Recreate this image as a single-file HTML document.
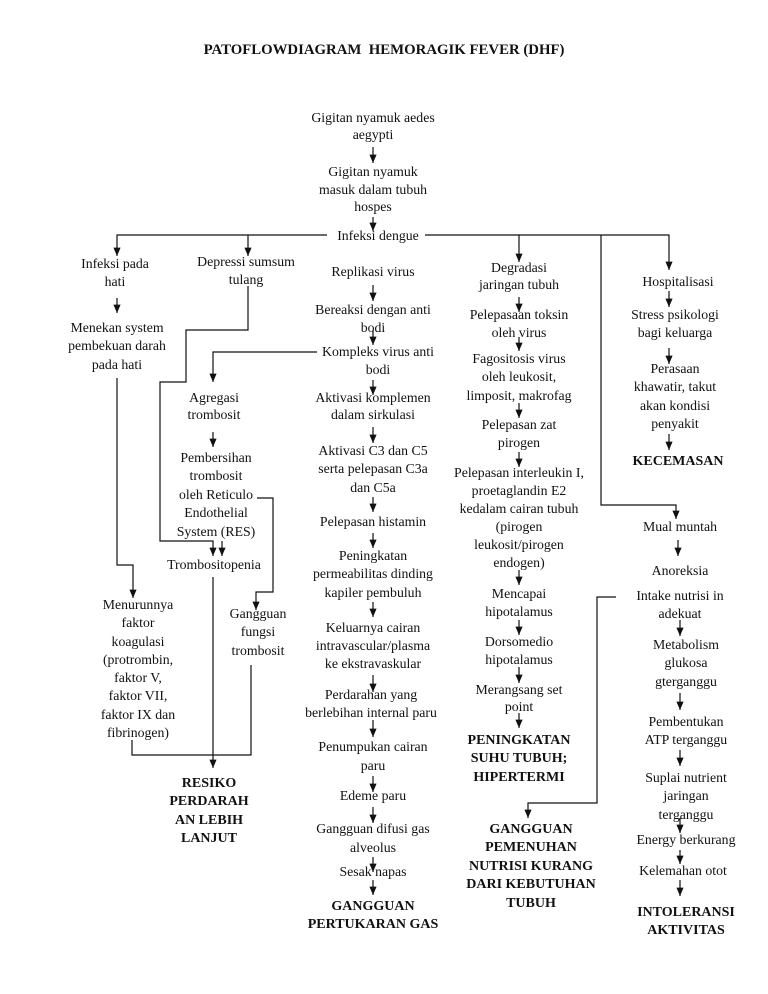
<!DOCTYPE html>
<html><head><meta charset="utf-8"><style>
body{margin:0;background:#fff;}
#c{position:relative;width:768px;height:994px;overflow:hidden;font-family:"Liberation Serif",serif;font-size:13.8px;color:#111;}
.t{position:absolute;width:300px;margin-left:-30px;text-align:center;line-height:18.4px;white-space:nowrap;}
.b{font-weight:bold;font-size:14px;}
svg{position:absolute;left:0;top:0;}
</style></head><body><div id="c">
<svg width="768" height="994">
<defs>
<marker id="m" viewBox="0 0 6 7" markerWidth="6" markerHeight="7" refX="3" refY="7" orient="0"><path d="M0,0 L6,0 L3,7z" fill="#111"/></marker></defs>
<g stroke="#111" stroke-width="1.2" fill="none">
<path d="M132 740V755H251V665"/>
</g>
<g stroke="#111" stroke-width="1.2" fill="none" marker-end="url(#m)">
<path d="M373 147V163"/><path d="M373 217V231"/><path d="M373 285V301"/><path d="M373 330V345"/><path d="M373 380V395"/>
<path d="M373 427V443"/><path d="M373 497V512"/><path d="M373 533V548"/><path d="M373 602V617"/><path d="M373 675V692"/>
<path d="M373 720V737"/><path d="M373 776V792"/><path d="M373 807V823"/><path d="M373 857V872"/><path d="M373 880V895"/>
<path d="M327 235H117V256"/><path d="M248 235V256"/><path d="M425 235H519V262"/><path d="M519 235H669V270"/>
<path d="M601 235V505H676V519"/>
<path d="M117 298V313"/><path d="M117 378V565H133V598"/>
<path d="M248 286V330H186V382H160V541H213V556"/>
<path d="M317 352H213V382"/><path d="M213 432V447"/><path d="M222 541V556"/>
<path d="M257 498H273V592H256V610"/>
<path d="M213 577V768"/>
<path d="M519 297V312"/><path d="M519 337V351"/><path d="M519 403V418"/><path d="M519 452V467"/><path d="M519 570V585"/><path d="M519 620V635"/><path d="M519 667V683"/><path d="M519 713V728"/>
<path d="M616 597H597V803H528V818"/>
<path d="M669 291V307"/><path d="M669 348V364"/><path d="M669 434V450"/>
<path d="M678 540V556"/><path d="M680 620V636"/><path d="M680 693V710"/><path d="M680 750V766"/><path d="M680 818V833"/><path d="M680 850V864"/><path d="M680 880V896"/>
</g>
</svg>
<div class="b" style="position:absolute;left:84px;width:600px;text-align:center;top:41px;font-size:14.8px;line-height:18px;white-space:nowrap">PATOFLOWDIAGRAM&nbsp; HEMORAGIK FEVER (DHF)</div>
<div class="t" style="left:253px;top:109px;line-height:17px">Gigitan nyamuk aedes<br>aegypti</div>
<div class="t" style="left:253px;top:163px;line-height:17.5px">Gigitan nyamuk<br>masuk dalam tubuh<br>hospes</div>
<div class="t" style="left:258px;top:227px">Infeksi dengue</div>
<div class="t" style="left:253px;top:263px">Replikasi virus</div>
<div class="t" style="left:253px;top:301px">Bereaksi dengan anti<br>bodi</div>
<div class="t" style="left:258px;top:343px">Kompleks virus anti<br>bodi</div>
<div class="t" style="left:253px;top:389px;line-height:17px">Aktivasi komplemen<br>dalam sirkulasi</div>
<div class="t" style="left:253px;top:442px">Aktivasi C3 dan C5<br>serta pelepasan C3a<br>dan C5a</div>
<div class="t" style="left:253px;top:513px">Pelepasan histamin</div>
<div class="t" style="left:253px;top:547px">Peningkatan<br>permeabilitas dinding<br>kapiler pembuluh</div>
<div class="t" style="left:253px;top:619px;line-height:18px">Keluarnya cairan<br>intravascular/plasma<br>ke ekstravaskular</div>
<div class="t" style="left:251px;top:686px">Perdarahan yang<br>berlebihan internal paru</div>
<div class="t" style="left:253px;top:737px;line-height:19px">Penumpukan cairan<br>paru</div>
<div class="t" style="left:253px;top:787px">Edeme paru</div>
<div class="t" style="left:253px;top:819px;line-height:19px">Gangguan difusi gas<br>alveolus</div>
<div class="t" style="left:253px;top:863px">Sesak napas</div>
<div class="t b" style="left:253px;top:898px">GANGGUAN<br>PERTUKARAN GAS</div>
<div class="t" style="left:-5px;top:255px">Infeksi pada<br>hati</div>
<div class="t" style="left:-3px;top:319px">Menekan system<br>pembekuan darah<br>pada hati</div>
<div class="t" style="left:18px;top:596px;line-height:18.3px">Menurunnya<br>faktor<br>koagulasi<br>(protrombin,<br>faktor V,<br>faktor VII,<br>faktor IX dan<br>fibrinogen)</div>
<div class="t" style="left:126px;top:253px">Depressi sumsum<br>tulang</div>
<div class="t" style="left:94px;top:389px;line-height:17px">Agregasi<br>trombosit</div>
<div class="t" style="left:96px;top:449px">Pembersihan<br>trombosit<br>oleh Reticulo<br>Endothelial<br>System (RES)</div>
<div class="t" style="left:94px;top:556px">Trombositopenia</div>
<div class="t" style="left:138px;top:605px">Gangguan<br>fungsi<br>trombosit</div>
<div class="t b" style="left:89px;top:775px">RESIKO<br>PERDARAH<br>AN LEBIH<br>LANJUT</div>
<div class="t" style="left:399px;top:259px;line-height:17px">Degradasi<br>jaringan tubuh</div>
<div class="t" style="left:399px;top:306px">Pelepasaan toksin<br>oleh virus</div>
<div class="t" style="left:399px;top:350px">Fagositosis virus<br>oleh leukosit,<br>limposit, makrofag</div>
<div class="t" style="left:399px;top:416px">Pelepasan zat<br>pirogen</div>
<div class="t" style="left:399px;top:464px;line-height:18.1px">Pelepasan interleukin I,<br>proetaglandin E2<br>kedalam cairan tubuh<br>(pirogen<br>leukosit/pirogen<br>endogen)</div>
<div class="t" style="left:399px;top:585px">Mencapai<br>hipotalamus</div>
<div class="t" style="left:399px;top:633px">Dorsomedio<br>hipotalamus</div>
<div class="t" style="left:399px;top:681px;line-height:17px">Merangsang set<br>point</div>
<div class="t b" style="left:399px;top:732px">PENINGKATAN<br>SUHU TUBUH;<br>HIPERTERMI</div>
<div class="t b" style="left:411px;top:821px">GANGGUAN<br>PEMENUHAN<br>NUTRISI KURANG<br>DARI KEBUTUHAN<br>TUBUH</div>
<div class="t" style="left:558px;top:273px">Hospitalisasi</div>
<div class="t" style="left:555px;top:306px">Stress psikologi<br>bagi keluarga</div>
<div class="t" style="left:555px;top:360px">Perasaan<br>khawatir, takut<br>akan kondisi<br>penyakit</div>
<div class="t b" style="left:558px;top:453px">KECEMASAN</div>
<div class="t" style="left:560px;top:518px">Mual muntah</div>
<div class="t" style="left:560px;top:562px">Anoreksia</div>
<div class="t" style="left:560px;top:587px">Intake nutrisi in<br>adekuat</div>
<div class="t" style="left:566px;top:636px">Metabolism<br>glukosa<br>gterganggu</div>
<div class="t" style="left:566px;top:713px">Pembentukan<br>ATP terganggu</div>
<div class="t" style="left:566px;top:769px">Suplai nutrient<br>jaringan<br>terganggu</div>
<div class="t" style="left:566px;top:831px">Energy berkurang</div>
<div class="t" style="left:563px;top:862px">Kelemahan otot</div>
<div class="t b" style="left:566px;top:904px">INTOLERANSI<br>AKTIVITAS</div>
</div></body></html>
